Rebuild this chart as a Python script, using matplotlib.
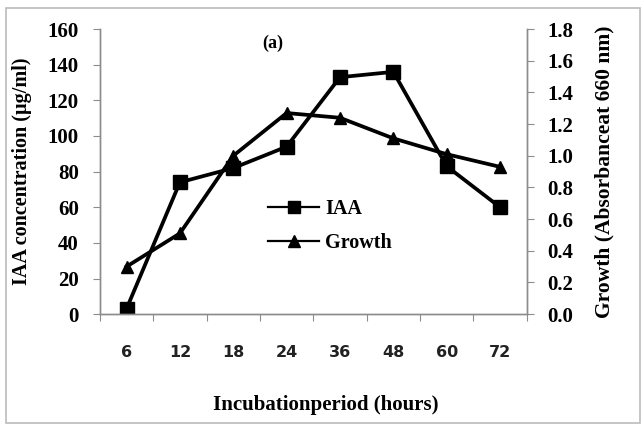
import matplotlib
matplotlib.use("Agg")
import matplotlib.pyplot as plt
from matplotlib.lines import Line2D
from matplotlib.patches import Rectangle
import numpy as np

hours = ["6", "12", "18", "24", "36", "48", "60", "72"]
iaa = [3, 74, 82, 94, 133, 136, 83, 60]
growth = [0.30, 0.51, 1.00, 1.27, 1.24, 1.11, 1.01, 0.93]

serif = "Liberation Serif"
sans = "DejaVu Sans"
spine_col = "#8c8c8c"

fig = plt.figure(figsize=(6.44, 4.28), dpi=100)
fig.patches.append(Rectangle((0.009, 0.012), 0.985, 0.97, transform=fig.transFigure,
                             fill=False, edgecolor="#bbbbbb", linewidth=1.2))
ax = fig.add_axes([0.155, 0.266, 0.663, 0.666])
ax2 = ax.twinx()

x = np.arange(len(hours))
ax.plot(x, iaa, color="black", linewidth=2.7, marker="s", markersize=10)
ax2.plot(x, growth, color="black", linewidth=2.7, marker="^", markersize=8)

ax.set_xlim(-0.5, len(hours) - 0.5)
ax.set_ylim(0, 160)
ax.set_yticks(np.arange(0, 161, 20))
ax2.set_ylim(0, 1.8)
ax2.set_yticks(np.arange(0, 1.81, 0.2))
ax2.set_yticklabels([f"{v:.1f}" for v in np.arange(0, 1.81, 0.2)])

# category labels centered, tick marks between categories
ax.set_xticks(np.arange(-0.5, len(hours)), minor=False)
ax.set_xticklabels([])
ax.set_xticks(x, minor=True)
ax.set_xticklabels(hours, minor=True, fontfamily=sans, fontweight="bold",
                   fontsize=11.5, color="#222222")
ax.tick_params(axis="x", which="major", length=5, direction="out", color=spine_col)
ax.tick_params(axis="x", which="minor", length=0, pad=22)

for a in (ax, ax2):
    a.spines["top"].set_visible(False)
    for s in ("left", "right", "bottom"):
        a.spines[s].set_color(spine_col)
        a.spines[s].set_linewidth(1.0)
    a.tick_params(axis="y", length=5, color=spine_col, pad=10)
    for lab in a.get_yticklabels():
        lab.set_fontfamily(serif)
        lab.set_fontweight("bold")
        lab.set_fontsize(15)

ax.set_ylabel("IAA concentration (µg/ml)", fontfamily=serif, fontweight="bold",
              fontsize=14.5, labelpad=11)
ax2.set_ylabel("Growth (Absorbanceat 660 nm)", fontfamily=serif, fontweight="bold",
               fontsize=15.5, labelpad=15)
ax.set_xlabel("Incubationperiod (hours)", fontfamily=serif, fontweight="bold",
              fontsize=15)
ax.xaxis.set_label_coords(0.53, -0.285)

ax.text(0.405, 0.95, "(a)", transform=ax.transAxes, fontfamily=serif,
        fontweight="bold", fontsize=13, ha="center", va="center")

handles = [Line2D([], [], color="black", linewidth=1.6, marker="s", markersize=8),
           Line2D([], [], color="black", linewidth=1.6, marker="^", markersize=8)]
ax.legend(handles, ["IAA", "Growth"], loc="center left", bbox_to_anchor=(0.395, 0.31),
          frameon=False, handlelength=2.5, handletextpad=0.3, labelspacing=0.7,
          borderpad=0, borderaxespad=0,
          prop={"family": serif, "weight": "bold", "size": 14.5})

fig.savefig("out.png", dpi=100)
